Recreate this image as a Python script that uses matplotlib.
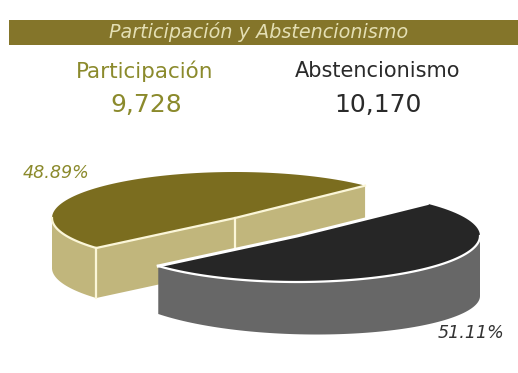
import numpy as np
import matplotlib
matplotlib.use("Agg")
import matplotlib.pyplot as plt
from matplotlib.patches import Polygon, Rectangle

categories = ['Participación', 'Abstencionismo']
votes = [9728, 10170]
vote_labels = ['9,728', '10,170']
pct_labels = ['48.89%', '51.11%']

OLIVE = '#7b6d1f'
OLIVE_SIDE = '#c1b67c'
OLIVE_TEXT = '#8b8a2c'
DARK = '#262626'
DARK_SIDE = '#676767'
CREAM = '#fbf6d8'

RX, RY, DEPTH = 183, 46, 50
START = 44.7  # angle of the shared cut, degrees


def rim(cx, cy, a0, a1):
    t = np.radians(np.linspace(a0, a1, 90))
    return np.column_stack([cx + RX * np.cos(t), cy - RY * np.sin(t)])


fig = plt.figure(figsize=(5.18, 3.73), dpi=100)
ax = fig.add_axes([0, 0, 1, 1])
ax.set_xlim(0, 518)
ax.set_ylim(373, 0)
ax.axis('off')

# header band
ax.add_patch(Rectangle((9, 20), 509, 25, fc='#84752a', ec='none'))
ax.text(259, 32, 'Participación y Abstencionismo', color='#e4dfb4', style='italic',
        fontsize=13.8, ha='center', va='center')

ax.text(145, 71, categories[0], color=OLIVE_TEXT, fontsize=15.5, ha='center', va='center')
ax.text(146, 105, vote_labels[0], color=OLIVE_TEXT, fontsize=18, ha='center', va='center')
ax.text(378, 71, categories[1], color='#2a2a2a', fontsize=15, ha='center', va='center')
ax.text(378, 105, vote_labels[1], color='#2a2a2a', fontsize=18, ha='center', va='center')

ax.text(56, 173, pct_labels[0], color=OLIVE_TEXT, style='italic', fontsize=12.6, ha='center', va='center')
ax.text(471, 333, pct_labels[1], color='#333333', style='italic', fontsize=12.6, ha='center', va='center')

# slice angles come from the vote counts
shares = np.array(votes) / sum(votes)
end_olive = START + shares[0] * 360
end_dark = end_olive + shares[1] * 360

# olive slice
cx, cy = 235, 218
top = rim(cx, cy, START, end_olive)
centre = np.array([[cx, cy]])
side = rim(cx, cy, 180, end_olive)
ax.add_patch(Polygon(np.vstack([side, (side + [0, DEPTH])[::-1]]), fc=OLIVE_SIDE, ec='none'))
for a, b in [(top[-1], centre[0]), (centre[0], top[0])]:
    face = np.array([a, b, b + [0, DEPTH], a + [0, DEPTH]])
    ax.add_patch(Polygon(face, fc=OLIVE_SIDE, ec='none'))
ax.add_patch(Polygon(np.vstack([top, centre]), fc=OLIVE, ec='none'))
ax.plot(side[:, 0], side[:, 1], color=CREAM, lw=1.6)
ax.plot([top[-1][0], cx, top[0][0]], [top[-1][1], cy, top[0][1]], color=CREAM, lw=1.6)
ax.plot([top[-1][0]] * 2, [top[-1][1], top[-1][1] + DEPTH], color=CREAM, lw=1.6)
ax.plot([cx, cx], [cy, cy + 30], color=CREAM, lw=1.6)

# dark slice sits in front of the olive one
cx, cy = 297, 236
top = rim(cx, cy, end_olive, end_dark)
centre = np.array([[cx, cy]])
side = rim(cx, cy, end_olive, 360)
# wall gets a bit deeper toward the right, as in the scan
drop = np.column_stack([np.zeros(len(side)), np.linspace(48, 60, len(side))])
ax.add_patch(Polygon(np.vstack([side, (side + drop)[::-1]]), fc=DARK_SIDE, ec='none'))
# white gap along the cut, over the olive wall
ax.plot([top[0][0], cx, top[-1][0]], [top[0][1], cy, top[-1][1]], color='white', lw=2.2)
ax.add_patch(Polygon(np.vstack([top, centre]), fc=DARK, ec='none'))
ax.plot(side[:, 0], side[:, 1], color='white', lw=1.6)

fig.savefig('out.png', dpi=100)
